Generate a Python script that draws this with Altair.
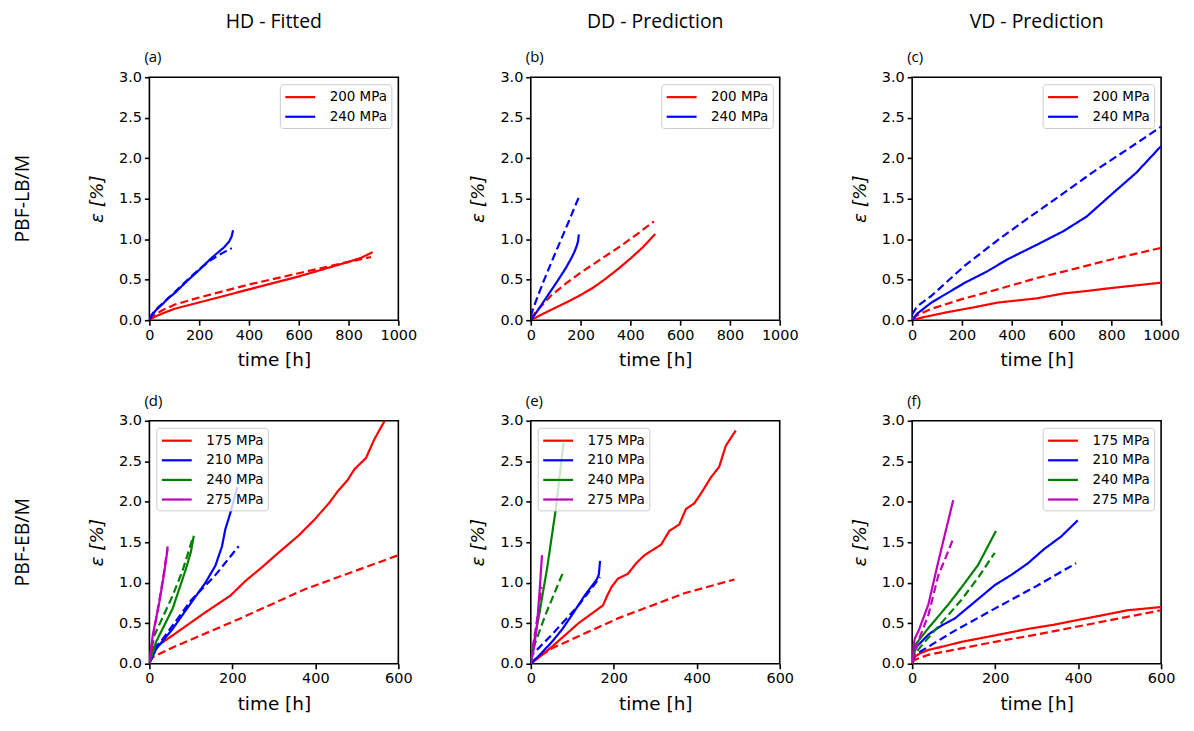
import altair as alt
import pandas as pd

# ---------------- data (time [h], strain [%]) ----------------
# Row 1: PBF-LB/M ; Row 2: PBF-EB/M ; "exp" = solid, "model" = dashed
A_200_EXP = [(0,0),(20,0.04),(50,0.08),(100,0.14),(200,0.22),(300,0.30),(400,0.38),(500,0.46),(600,0.54),(700,0.63),(800,0.72),(850,0.77),(897,0.84)]
A_200_MOD = [(0,0),(20,0.06),(50,0.12),(100,0.19),(200,0.28),(300,0.36),(400,0.44),(500,0.51),(600,0.58),(700,0.65),(800,0.72),(890,0.78)]
A_240_EXP = [(0,0),(10,0.06),(25,0.12),(50,0.19),(75,0.27),(100,0.33),(150,0.48),(200,0.62),(250,0.77),(300,0.90),(320,0.97),(330,1.03),(336,1.11)]
A_240_MOD = [(0,0.02),(10,0.07),(25,0.13),(50,0.20),(100,0.34),(150,0.49),(200,0.63),(250,0.75),(300,0.84),(331,0.89)]

B_200_EXP = [(0,0),(50,0.08),(100,0.155),(150,0.23),(200,0.31),(250,0.40),(300,0.51),(350,0.63),(400,0.76),(450,0.90),(500,1.065)]
B_200_MOD = [(0,0.02),(20,0.10),(50,0.20),(80,0.30),(140,0.45),(200,0.586),(280,0.75),(360,0.914),(430,1.07),(495,1.22)]
B_240_EXP = [(0,0),(30,0.13),(67,0.30),(100,0.45),(120,0.545),(140,0.64),(160,0.75),(175,0.84),(185,0.92),(190,0.98),(193,1.06)]
B_240_MOD = [(0,0.05),(10,0.15),(50,0.47),(100,0.84),(150,1.20),(193,1.52)]

C_200_EXP = [(0,0),(50,0.04),(143,0.10),(250,0.16),(343,0.217),(502,0.27),(608,0.33),(700,0.36),(807,0.40),(900,0.43),(1000,0.463)]
C_200_MOD = [(0,0.02),(25,0.07),(77,0.14),(200,0.26),(343,0.38),(500,0.52),(608,0.60),(800,0.75),(1000,0.893)]
C_240_EXP = [(0,0),(20,0.08),(77,0.217),(150,0.35),(210,0.46),(300,0.60),(382,0.75),(500,0.93),(608,1.10),(701,1.28),(807,1.57),(900,1.82),(1000,2.15)]
C_240_MOD = [(0,0.07),(20,0.17),(77,0.30),(210,0.67),(340,0.98),(475,1.28),(600,1.55),(741,1.86),(870,2.12),(1000,2.39)]

D_175_EXP = [(0,0),(8,0.18),(56,0.35),(135,0.635),(195,0.84),(231,1.02),(271,1.19),(311,1.37),(359,1.58),(398,1.78),(434,1.99),(454,2.13),(478,2.27),(494,2.40),(522,2.54),(542,2.77),(567,3.0),(580,3.12)]
D_175_MOD = [(0,0.02),(8,0.08),(56,0.20),(215,0.55),(375,0.92),(600,1.34)]
D_210_EXP = [(0,0),(16,0.18),(56,0.43),(96,0.72),(135,1.0),(159,1.21),(175,1.45),(183,1.66),(195,1.86),(212,2.18)]
D_210_MOD = [(0,0.05),(10,0.20),(24,0.25),(60,0.50),(100,0.78),(160,1.10),(215,1.45)]
D_240_EXP = [(0,0),(16,0.27),(56,0.68),(88,1.17),(100,1.38),(107,1.58)]
D_240_MOD = [(0,0.05),(12,0.35),(56,0.84),(80,1.15),(105,1.56)]
D_275_EXP = [(0,0),(8,0.35),(24,0.76),(35,1.10),(44,1.42)]
D_275_MOD = [(0,0.05),(8,0.32),(24,0.78),(35,1.12),(44,1.45)]

E_175_EXP = [(0,0),(20,0.08),(51,0.21),(115,0.50),(174,0.72),(185,0.85),(195,0.95),(210,1.05),(234,1.11),(254,1.24),(274,1.34),(314,1.47),(334,1.64),(358,1.72),(374,1.91),(394,1.98),(410,2.10),(434,2.30),(454,2.43),(470,2.69),(494,2.88)]
E_175_MOD = [(0,0.02),(51,0.19),(210,0.56),(370,0.87),(491,1.04)]
E_210_EXP = [(0,0),(20,0.10),(51,0.27),(75,0.42),(99,0.60),(131,0.85),(159,1.04),(164,1.10),(167,1.27)]
E_210_MOD = [(0,0.05),(3,0.11),(51,0.36),(115,0.72),(167,1.07)]
E_240_EXP = [(0,0),(5,0.20),(20,0.60),(40,1.20),(60,1.90),(79,2.73)]
E_240_MOD = [(0,0.05),(3,0.15),(35,0.60),(78,1.13)]
E_275_EXP = [(0,0),(8,0.20),(15,0.48),(22,0.95),(27,1.34)]
E_275_MOD = [(0,0.05),(5,0.20),(19,0.68),(26,0.95)]

F_175_EXP = [(0,0),(7,0.09),(20,0.13),(39,0.17),(80,0.22),(119,0.27),(200,0.35),(279,0.43),(340,0.48),(399,0.54),(460,0.60),(519,0.66),(600,0.70)]
F_175_MOD = [(0,0.02),(7,0.05),(39,0.11),(119,0.19),(199,0.27),(300,0.36),(399,0.46),(500,0.56),(600,0.66)]
F_210_EXP = [(0,0),(7,0.19),(39,0.36),(70,0.47),(103,0.56),(150,0.76),(199,0.97),(240,1.10),(279,1.24),(319,1.42),(359,1.57),(399,1.77)]
F_210_MOD = [(0,0.03),(7,0.11),(39,0.21),(100,0.40),(199,0.68),(300,0.96),(395,1.24)]
F_240_EXP = [(0,0),(7,0.23),(39,0.44),(87,0.73),(120,0.95),(159,1.22),(202,1.64)]
F_240_MOD = [(0,0.03),(7,0.13),(39,0.32),(80,0.56),(119,0.79),(160,1.07),(199,1.37)]
F_275_EXP = [(0,0),(4,0.25),(7,0.32),(15,0.40),(39,0.73),(63,1.26),(80,1.62),(99,2.02)]
F_275_MOD = [(0,0.03),(7,0.15),(20,0.35),(39,0.60),(63,1.09),(80,1.30),(97,1.52)]

STRESS_LB = ["200 MPa", "240 MPa"]
STRESS_EB = ["175 MPa", "210 MPa", "240 MPa", "275 MPa"]
COLORS_LB = ["#ff0000", "#0000ff"]
COLORS_EB = ["#ff0000", "#0000ff", "#008000", "#bf00bf"]
COL_TITLES = ["HD - Fitted", "DD - Prediction", "VD - Prediction"]
ROW_TITLES = ["PBF-LB/M", "PBF-EB/M"]
LETTERS = ["(a)", "(b)", "(c)", "(d)", "(e)", "(f)"]
X_TICKS_LB = [0, 200, 400, 600, 800, 1000]
X_TICKS_EB = [0, 200, 400, 600]
Y_TICKS = [0, 0.5, 1.0, 1.5, 2.0, 2.5, 3.0]

PANELS = [
    dict(curves=[("200 MPa", "exp", A_200_EXP), ("200 MPa", "model", A_200_MOD),
                 ("240 MPa", "exp", A_240_EXP), ("240 MPa", "model", A_240_MOD)],
         stresses=STRESS_LB, colors=COLORS_LB, xmax=1000, xticks=X_TICKS_LB, orient="top-right"),
    dict(curves=[("200 MPa", "exp", B_200_EXP), ("200 MPa", "model", B_200_MOD),
                 ("240 MPa", "exp", B_240_EXP), ("240 MPa", "model", B_240_MOD)],
         stresses=STRESS_LB, colors=COLORS_LB, xmax=1000, xticks=X_TICKS_LB, orient="top-right"),
    dict(curves=[("200 MPa", "exp", C_200_EXP), ("200 MPa", "model", C_200_MOD),
                 ("240 MPa", "exp", C_240_EXP), ("240 MPa", "model", C_240_MOD)],
         stresses=STRESS_LB, colors=COLORS_LB, xmax=1000, xticks=X_TICKS_LB, orient="top-right"),
    dict(curves=[("175 MPa", "exp", D_175_EXP), ("175 MPa", "model", D_175_MOD),
                 ("210 MPa", "exp", D_210_EXP), ("210 MPa", "model", D_210_MOD),
                 ("240 MPa", "exp", D_240_EXP), ("240 MPa", "model", D_240_MOD),
                 ("275 MPa", "exp", D_275_EXP), ("275 MPa", "model", D_275_MOD)],
         stresses=STRESS_EB, colors=COLORS_EB, xmax=600, xticks=X_TICKS_EB, orient="top-left"),
    dict(curves=[("175 MPa", "exp", E_175_EXP), ("175 MPa", "model", E_175_MOD),
                 ("210 MPa", "exp", E_210_EXP), ("210 MPa", "model", E_210_MOD),
                 ("240 MPa", "exp", E_240_EXP), ("240 MPa", "model", E_240_MOD),
                 ("275 MPa", "exp", E_275_EXP), ("275 MPa", "model", E_275_MOD)],
         stresses=STRESS_EB, colors=COLORS_EB, xmax=600, xticks=X_TICKS_EB, orient="top-left"),
    dict(curves=[("175 MPa", "exp", F_175_EXP), ("175 MPa", "model", F_175_MOD),
                 ("210 MPa", "exp", F_210_EXP), ("210 MPa", "model", F_210_MOD),
                 ("240 MPa", "exp", F_240_EXP), ("240 MPa", "model", F_240_MOD),
                 ("275 MPa", "exp", F_275_EXP), ("275 MPa", "model", F_275_MOD)],
         stresses=STRESS_EB, colors=COLORS_EB, xmax=600, xticks=X_TICKS_EB, orient="top-right"),
]

W, H = 250, 244
LABEL_FONT = "Open Sans"


def make_panel(i, p):
    rows = []
    for stress, kind, pts in p["curves"]:
        for t, e in pts:
            rows.append({"t": t, "e": e, "stress": stress, "kind": kind})
    df = pd.DataFrame(rows)
    lines = alt.Chart(df).mark_line(strokeWidth=2.2, clip=True).encode(
        x=alt.X("t:Q", scale=alt.Scale(domain=[0, p["xmax"]], nice=False),
                axis=alt.Axis(values=p["xticks"], format="d", title="time [h]", titlePadding=9,
                              labelFlush=False, labelOverlap=False)),
        y=alt.Y("e:Q", scale=alt.Scale(domain=[0, 3], nice=False),
                axis=alt.Axis(values=Y_TICKS, format=".1f", title="ε [%]", titlePadding=12,
                              titleFontStyle="italic", labelFlush=False, labelOverlap=False)),
        color=alt.Color("stress:N", scale=alt.Scale(domain=p["stresses"], range=p["colors"]),
                        legend=alt.Legend(title=None, orient=p["orient"], offset=7, padding=4,
                                          fillColor="rgba(255,255,255,0.8)", strokeColor="#cccccc",
                                          cornerRadius=3, symbolType="M-1,0L3,0", symbolSize=225,
                                          symbolStrokeWidth=2.2, labelFontSize=13.5,
                                          labelFont="DejaVu Sans", labelColor="black",
                                          labelOffset=28, rowPadding=3.7, zindex=1)),
        strokeDash=alt.StrokeDash("kind:N", scale=alt.Scale(domain=["exp", "model"], range=[[1, 0], [8, 4]]),
                                  legend=None),
    )
    layers = [lines]
    layers.append(
        alt.Chart(pd.DataFrame({"s": [LETTERS[i]]})).mark_text(
            align="left", baseline="middle", font=LABEL_FONT, fontSize=15, color="black"
        ).encode(text="s:N", x=alt.value(-5), y=alt.value(-20))
    )
    if i < 3:
        layers.append(
            alt.Chart(pd.DataFrame({"s": [COL_TITLES[i]]})).mark_text(
                align="center", baseline="alphabetic", font=LABEL_FONT, fontSize=19.5, color="black"
            ).encode(text="s:N", x=alt.value(W / 2), y=alt.value(-49))
        )
    if i % 3 == 0:
        layers.append(
            alt.Chart(pd.DataFrame({"s": [ROW_TITLES[i // 3]]})).mark_text(
                align="center", baseline="middle", font=LABEL_FONT, fontSize=19.5, color="black", angle=270
            ).encode(text="s:N", x=alt.value(-127), y=alt.value(H / 2))
        )
    return alt.layer(*layers).properties(width=W, height=H)


charts = [make_panel(i, p) for i, p in enumerate(PANELS)]

chart = alt.concat(*charts, columns=3, spacing={"row": 101, "column": 133}, bounds="flush").resolve_scale(
    color="independent", strokeDash="independent"
).properties(
    padding={"left": 4, "top": 2, "right": 5, "bottom": 5}
).configure_view(
    stroke="black", strokeWidth=1.6
).configure_axis(
    labelFont="DejaVu Sans", labelFontSize=14.5, labelColor="black",
    titleFont="DejaVu Sans", titleFontSize=18.5, titleFontWeight="normal", titleColor="black",
    tickColor="black", tickWidth=1.6, tickSize=5, domain=False, grid=False, labelPadding=3
)

chart.save("out.html", embed_options={"renderer": "svg", "actions": False})
